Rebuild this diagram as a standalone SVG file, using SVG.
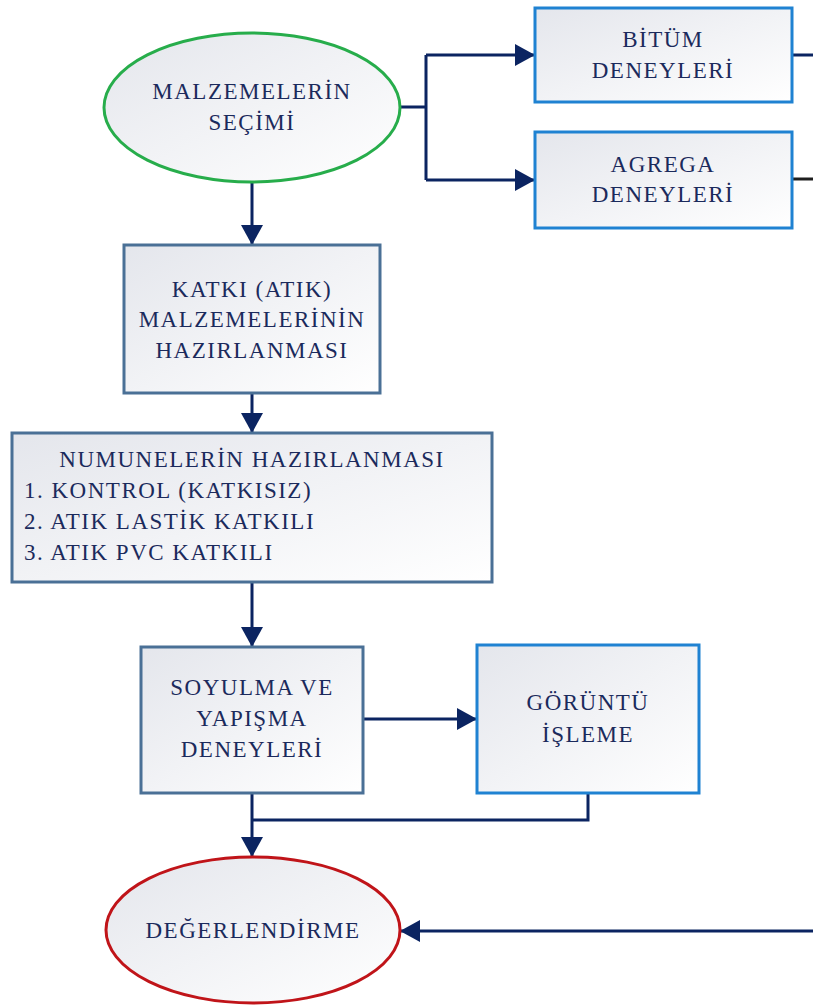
<svg xmlns="http://www.w3.org/2000/svg" width="813" height="1007" viewBox="0 0 813 1007">
<defs>
<linearGradient id="g" x1="0" y1="0" x2="1" y2="1">
<stop offset="0" stop-color="#e4e6ec"/>
<stop offset="1" stop-color="#ffffff"/>
</linearGradient>
<marker id="ah" markerUnits="userSpaceOnUse" markerWidth="20" markerHeight="22" refX="20" refY="11" orient="auto">
<path d="M0,0 L20,11 L0,22 z" fill="#0b2461"/>
</marker>
<style>
.t{font-family:"Liberation Serif","Times New Roman",serif;font-size:23px;fill:#1b2a5c;letter-spacing:1.5px}
.c{text-anchor:middle}
.bb{fill:url(#g);stroke:#1f82d2;stroke-width:3}
.gb{fill:url(#g);stroke:#4a7096;stroke-width:3}
.cn{fill:none;stroke:#0b2461;stroke-width:3}
.ar{marker-end:url(#ah)}
</style>
</defs>
<rect width="813" height="1007" fill="#ffffff"/>
<g id="connectors">
<path class="cn" d="M400,107 H426 M426,55 V180"/>
<path class="cn ar" d="M426,55 H535"/>
<path class="cn ar" d="M426,180 H535"/>
<path class="cn" d="M792,55 H813"/>
<path fill="none" stroke="#1e1e1e" stroke-width="3" d="M792,179 H813"/>
<path class="cn ar" d="M252,182 V245"/>
<path class="cn ar" d="M252,393 V433"/>
<path class="cn ar" d="M252,582 V647"/>
<path class="cn ar" d="M363,719 H477"/>
<path class="cn" d="M588,793 V820 H252"/>
<path class="cn ar" d="M252,793 V857"/>
<path class="cn ar" d="M813,931 H400"/>
</g>
<g id="malzeme-secimi">
<ellipse cx="252" cy="107.5" rx="148" ry="74.5" fill="url(#g)" stroke="#27ad4b" stroke-width="3"/>
<text class="t c" x="252" y="99">MALZEMELERİN</text>
<text class="t c" x="252" y="130">SEÇİMİ</text>
</g>
<g id="bitum">
<rect class="bb" x="535" y="8" width="257" height="94"/>
<text class="t c" x="663" y="47">BİTÜM</text>
<text class="t c" x="663" y="78">DENEYLERİ</text>
</g>
<g id="agrega">
<rect class="bb" x="535" y="132" width="257" height="96"/>
<text class="t c" x="663" y="172">AGREGA</text>
<text class="t c" x="663" y="202">DENEYLERİ</text>
</g>
<g id="katki">
<rect class="gb" x="124" y="245" width="256" height="148"/>
<text class="t c" x="252" y="297">KATKI (ATIK)</text>
<text class="t c" x="252" y="327">MALZEMELERİNİN</text>
<text class="t c" x="252" y="358">HAZIRLANMASI</text>
</g>
<g id="numune">
<rect class="gb" x="12" y="433" width="480" height="149"/>
<text class="t c" x="252" y="467">NUMUNELERİN HAZIRLANMASI</text>
<text class="t" x="24" y="498">1. KONTROL (KATKISIZ)</text>
<text class="t" x="24" y="529">2. ATIK LASTİK KATKILI</text>
<text class="t" x="24" y="560">3. ATIK PVC KATKILI</text>
</g>
<g id="soyulma">
<rect class="gb" x="141" y="647" width="222" height="146"/>
<text class="t c" x="252" y="695">SOYULMA VE</text>
<text class="t c" x="252" y="726">YAPIŞMA</text>
<text class="t c" x="252" y="757">DENEYLERİ</text>
</g>
<g id="goruntu">
<rect class="bb" x="477" y="645" width="222" height="148"/>
<text class="t c" x="588" y="710">GÖRÜNTÜ</text>
<text class="t c" x="588" y="742">İŞLEME</text>
</g>
<g id="degerlendirme">
<ellipse cx="253" cy="930" rx="147" ry="73" fill="url(#g)" stroke="#c01419" stroke-width="3"/>
<text class="t c" x="253" y="938">DEĞERLENDİRME</text>
</g>
</svg>
